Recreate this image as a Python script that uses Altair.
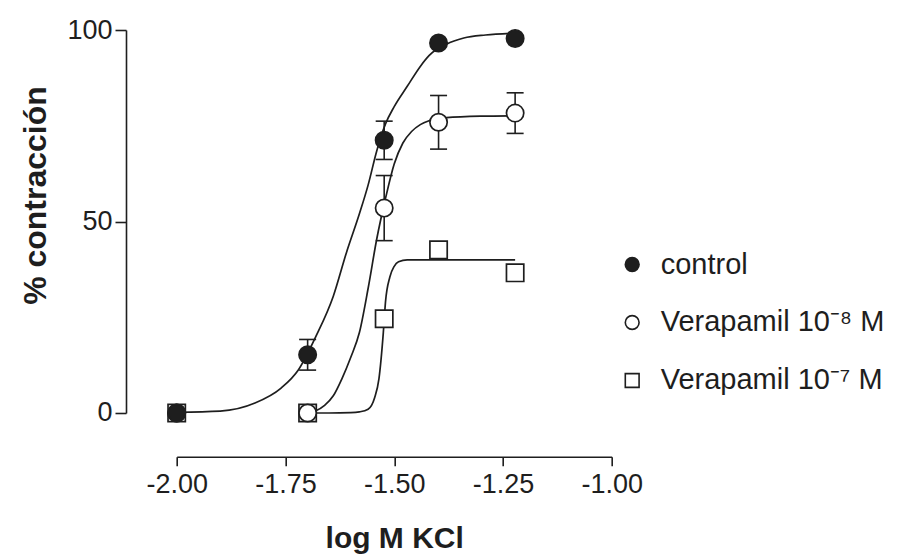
import altair as alt
import pandas as pd

# ---------------- data ----------------
series = ["control", "Verapamil 10⁻⁸ M", "Verapamil 10⁻⁷ M"]

log_kcl = [-2.000, -1.699, -1.523, -1.398, -1.222]

control_y = [0.0, 15.2, 71.2, 96.6, 97.8]
control_err = [0.0, 4.0, 5.0, 0.0, 0.0]

v8_y = [0.0, 0.0, 53.5, 75.9, 78.3]
v8_err = [0.0, 0.0, 8.5, 7.0, 5.3]

v7_y = [0.0, 0.0, 24.6, 42.6, 36.6]
v7_err = [0.0, 0.0, 0.0, 0.0, 0.0]

# fitted curves
curve_control_x = [-2.00, -1.90, -1.82, -1.76, -1.72, -1.68, -1.64, -1.61, -1.58, -1.56,
                   -1.54, -1.52, -1.50, -1.47, -1.44, -1.42, -1.38, -1.34, -1.29, -1.222]
curve_control_y = [0.2, 0.5, 2.6, 6.5, 11.3, 20.0, 30.5, 41.8, 52.0, 59.5,
                   68.5, 75.5, 80.0, 85.3, 90.5, 93.3, 96.3, 97.9, 98.7, 99.2]

curve_v8_x = [-1.699, -1.68, -1.66, -1.64, -1.62, -1.60, -1.58, -1.56, -1.54, -1.52,
              -1.50, -1.48, -1.46, -1.44, -1.42, -1.38, -1.30, -1.222]
curve_v8_y = [0.0, 0.6, 2.0, 4.5, 9.0, 14.5, 21.0, 32.5, 45.5, 56.0,
              65.0, 70.5, 73.5, 75.3, 76.3, 77.1, 77.5, 77.6]

curve_v7_x = [-1.699, -1.65, -1.60, -1.58, -1.56, -1.545, -1.535, -1.525, -1.52, -1.51,
              -1.50, -1.49, -1.47, -1.40, -1.30, -1.222]
curve_v7_y = [0.0, 0.0, 0.1, 0.3, 1.0, 4.0, 9.0, 21.0, 29.0, 35.5,
              38.3, 39.5, 40.0, 40.0, 40.0, 40.0]

x_ticks = [-2.00, -1.75, -1.50, -1.25, -1.00]
y_ticks = [0, 50, 100]

# ---------------- tables ----------------
pts = pd.DataFrame({
    "serie": [series[0]] * 5 + [series[1]] * 5 + [series[2]] * 5,
    "x": log_kcl * 3,
    "y": control_y + v8_y + v7_y,
    "err": control_err + v8_err + v7_err,
})
pts["lo"] = pts["y"] - pts["err"]
pts["hi"] = pts["y"] + pts["err"]
errs = pts[pts["err"] > 0].copy()

curves = pd.DataFrame({
    "serie": [series[0]] * len(curve_control_x) + [series[1]] * len(curve_v8_x)
             + [series[2]] * len(curve_v7_x),
    "x": curve_control_x + curve_v8_x + curve_v7_x,
    "y": curve_control_y + curve_v8_y + curve_v7_y,
})

ink = "#1e1e1e"
font = "Liberation Sans"

x_axis = alt.Axis(values=x_ticks, title="log M KCl", offset=43.7, tickSize=9,
                  labelPadding=6, titlePadding=26, labelFlush=False,
                  labelExpr="replace(format(datum.value, '.2f'), '\u2212', '-')")
y_axis = alt.Axis(values=y_ticks, title="% contracción", offset=50.7, tickSize=11,
                  labelPadding=3, titlePadding=14, titleFontSize=32, titleY=165,
                  labelFlush=False)

xs = alt.Scale(domain=[-2, -1], nice=False, zero=False)
ys = alt.Scale(domain=[0, 100], nice=False)


def X(f):
    return alt.X(f"{f}:Q", scale=xs, axis=x_axis)


def Y(f):
    return alt.Y(f"{f}:Q", scale=ys, axis=y_axis)


legend = alt.Legend(title=None, orient="none", legendX=441, legendY=220,
                    labelFontSize=29, labelFont=font, labelColor=ink, labelLimit=0,
                    symbolSize=190, symbolStrokeWidth=1.6,
                    rowPadding=28, labelOffset=14, padding=0)

fill_scale = alt.Scale(domain=series, range=[ink, "white", "white"])
stroke_scale = alt.Scale(domain=series, range=[ink, ink, ink])
shape_scale = alt.Scale(domain=series, range=["circle", "circle", "square"])

bars = alt.Chart(errs).mark_rule(color=ink, strokeWidth=1.6).encode(
    x=X("x"), y=Y("lo"), y2="hi:Q")
caps_lo = alt.Chart(errs).mark_tick(color=ink, orient="horizontal", size=17,
                                    thickness=1.6, opacity=1).encode(x=X("x"), y=Y("lo"))
caps_hi = alt.Chart(errs).mark_tick(color=ink, orient="horizontal", size=17,
                                    thickness=1.6, opacity=1).encode(x=X("x"), y=Y("hi"))

lines = alt.Chart(curves).mark_line(color=ink, strokeWidth=1.7, interpolate="monotone").encode(
    x=X("x"), y=Y("y"), detail="serie:N")

points = alt.Chart(pts).mark_point(filled=True, size=300, opacity=1,
                                   strokeWidth=1.7).encode(
    x=X("x"), y=Y("y"),
    fill=alt.Fill("serie:N", scale=fill_scale, sort=series, legend=legend),
    stroke=alt.Stroke("serie:N", scale=stroke_scale, sort=series, legend=legend),
    shape=alt.Shape("serie:N", scale=shape_scale, sort=series, legend=legend),
    order=alt.Order("rank:Q"),
).transform_calculate(rank="indexof(['Verapamil 10⁻⁷ M','Verapamil 10⁻⁸ M','control'], datum.serie)")

chart = alt.layer(bars, caps_lo, caps_hi, lines, points).properties(
    width=435, height=383,
    autosize=alt.AutoSizeParams(type="none"),
    padding={"left": 168.7, "top": 22, "right": 285, "bottom": 145},
    background="white",
).configure_view(stroke=None).configure_axis(
    grid=False, domainColor=ink, domainWidth=1.6, tickColor=ink, tickWidth=1.6,
    labelFont=font, labelFontSize=27, labelColor=ink,
    titleFont=font, titleFontSize=30, titleFontWeight="bold", titleColor=ink,
)

chart.save("out.html", embed_options={"renderer": "svg", "actions": False})
